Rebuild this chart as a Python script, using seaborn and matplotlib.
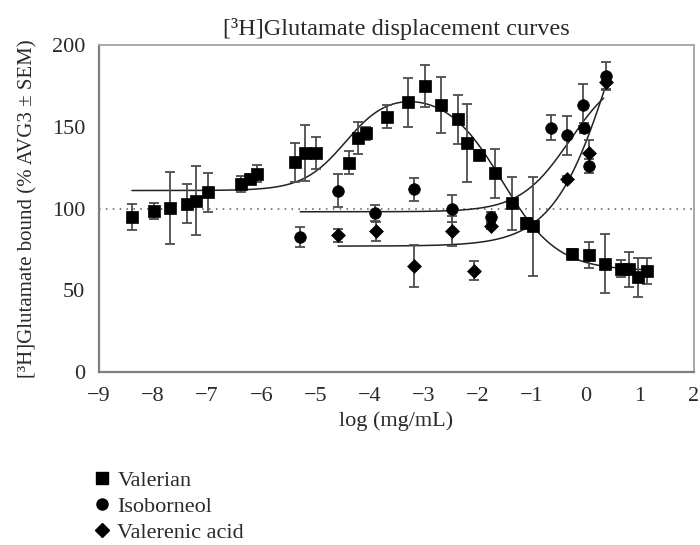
import numpy as np
import pandas as pd
import matplotlib
matplotlib.use("Agg")
import matplotlib.pyplot as plt
import seaborn as sns
from matplotlib.lines import Line2D

# ---- data ----
valerian_x = [-8.39, -7.98, -7.69, -7.38, -7.20, -6.98, -6.38, -6.21, -6.07, -5.37, -5.19,
              -4.98, -4.37, -4.21, -4.06, -3.68, -3.28, -2.98, -2.68, -2.37, -2.19, -1.97,
              -1.67, -1.36, -1.10, -0.97, -0.26, 0.05, 0.35, 0.65, 0.80, 0.96, 1.14]
valerian_y = [95.0, 98.6, 100.4, 103.0, 104.7, 109.8, 114.9, 117.8, 121.4, 128.2, 134.0,
              134.0, 128.0, 143.2, 145.9, 156.0, 164.9, 175.0, 163.4, 154.6, 140.2, 132.6,
              121.6, 103.1, 91.0, 89.0, 72.0, 71.5, 66.2, 63.3, 62.7, 57.9, 61.7]
valerian_e = [8, 5, 22, 12, 21, 12, 5, 3, 5, 12, 17,
              10, 7, 10, 4, 7, 15, 13, 17, 15, 24, 3,
              15, 16, 3, 30, 3, 8, 18, 5, 11, 12, 8]

iso_x = [-5.28, -4.58, -3.89, -3.18, -2.47, -1.75, -0.65, -0.34, -0.05, -0.04, 0.05, 0.37]
iso_y = [82.5, 110.8, 97.3, 111.7, 100.0, 94.9, 149.4, 144.7, 163.4, 149.0, 126.0, 181.3]
iso_e = [6, 10, 5, 7, 8, 3, 7.5, 12, 13, 3, 4, 8]

vac_x = [-4.58, -3.87, -3.18, -2.47, -2.06, -1.76, -0.34, 0.05, 0.37]
vac_y = [83.5, 86.0, 64.7, 86.3, 62.0, 89.4, 118.0, 134.0, 177.3]
vac_e = [4, 6, 13, 9, 6, 2, 2, 8, 5]

series_names = ["Valerian", "Isoborneol", "Valerenic acid"]

# fitted-curve parameters (as drawn in the reference)
val_fit = dict(base=111.0, top=172.0, bottom=62.0, c1=-4.43, h1=1.1, c2=-1.55, h2=0.85,
               xmin=-8.39, xmax=1.14)
iso_fit = dict(bottom=98.0, top=185.0, c=-0.30, h=0.95, xmin=-5.28, xmax=0.33)
vac_fit = dict(bottom=77.0, top=300.0, c=0.50, h=0.80, xmin=-4.58, xmax=0.37)

# ---- style ----
sns.set_theme(style="white")
plt.rcParams['font.family'] = ['Liberation Serif', 'DejaVu Serif']
TXT = '#2a2a2a'
FS = 16

fig = plt.figure(figsize=(7, 5.45), dpi=100)
ax = fig.add_axes([99 / 700, 1 - 372 / 545, 595 / 700, 327 / 545])

# ---- curves ----
xv = np.linspace(val_fit['xmin'], val_fit['xmax'], 400)
rise = val_fit['base'] + (val_fit['top'] - val_fit['base']) / (1 + 10 ** (val_fit['h1'] * (val_fit['c1'] - xv)))
yv = val_fit['bottom'] + (rise - val_fit['bottom']) / (1 + 10 ** (val_fit['h2'] * (xv - val_fit['c2'])))

xi = np.linspace(iso_fit['xmin'], iso_fit['xmax'], 300)
yi = iso_fit['bottom'] + (iso_fit['top'] - iso_fit['bottom']) / (1 + 10 ** (iso_fit['h'] * (iso_fit['c'] - xi)))

xa = np.linspace(vac_fit['xmin'], vac_fit['xmax'], 300)
ya = vac_fit['bottom'] + (vac_fit['top'] - vac_fit['bottom']) / (1 + 10 ** (vac_fit['h'] * (vac_fit['c'] - xa)))

curves = pd.concat([
    pd.DataFrame({'x': xv, 'y': yv, 'compound': series_names[0]}),
    pd.DataFrame({'x': xi, 'y': yi, 'compound': series_names[1]}),
    pd.DataFrame({'x': xa, 'y': ya, 'compound': series_names[2]}),
])

ax.axhline(100, color='#555555', lw=1.1, ls=(0, (1, 3.5)), zorder=1)

sns.lineplot(data=curves, x='x', y='y', units='compound', estimator=None, color='#222222',
             lw=1.1, ax=ax, legend=False, sort=False, zorder=2)

# ---- points and error bars ----
pts = pd.concat([
    pd.DataFrame({'x': valerian_x, 'y': valerian_y, 'e': valerian_e, 'compound': series_names[0]}),
    pd.DataFrame({'x': iso_x, 'y': iso_y, 'e': iso_e, 'compound': series_names[1]}),
    pd.DataFrame({'x': vac_x, 'y': vac_y, 'e': vac_e, 'compound': series_names[2]}),
])

ax.errorbar(pts['x'], pts['y'], yerr=pts['e'], fmt='none', ecolor='#4d4d4d',
            elinewidth=1.3, capsize=3.8, capthick=1.3, zorder=3)

markers = {"Valerian": 's', "Isoborneol": 'o', "Valerenic acid": 'D'}
sizes = {"Valerian": 80, "Isoborneol": 70, "Valerenic acid": 50}
for name in series_names:
    sub = pts[pts['compound'] == name]
    sns.scatterplot(data=sub, x='x', y='y', marker=markers[name], s=sizes[name],
                    color='black', edgecolor='black', linewidth=0.5, ax=ax,
                    legend=False, zorder=4)

# ---- axes ----
ax.set_xlim(-9, 2)
ax.set_ylim(0, 200)
ax.set_xticks(range(-9, 3))
ax.set_yticks([0, 50, 100, 150, 200])
ax.tick_params(axis='y', direction='out', length=5, width=1.2, color='#7f7f7f',
               labelsize=FS, labelcolor=TXT, pad=5)
ax.tick_params(axis='x', direction='out', length=3.5, width=1.2, color='#7f7f7f',
               labelsize=FS, labelcolor=TXT, pad=7)
for side in ['left', 'bottom']:
    ax.spines[side].set_color('#7f7f7f')
    ax.spines[side].set_linewidth(1.6)
for side in ['top', 'right']:
    ax.spines[side].set_color('#a8a8a8')
    ax.spines[side].set_linewidth(1.4)

ax.set_xlabel('log (mg/mL)', fontsize=FS, color=TXT, labelpad=4)
ax.set_ylabel('[³H]Glutamate bound (% AVG3 ± SEM)', fontsize=15, color=TXT, labelpad=10)
ax.set_title('[³H]Glutamate displacement curves', fontsize=17.5, color=TXT, pad=7)

handles = [Line2D([], [], marker=markers[n], color='black', ls='none',
                  markersize=8 if n != 'Valerenic acid' else 7) for n in series_names]
fig.legend(handles, series_names, loc='upper left', bbox_to_anchor=(0.1326, 0.137),
           frameon=False, fontsize=FS, handlelength=0.8, handletextpad=0.3,
           labelspacing=0.25, borderaxespad=0, borderpad=0, labelcolor=TXT)

fig.savefig('out.png', dpi=100)
